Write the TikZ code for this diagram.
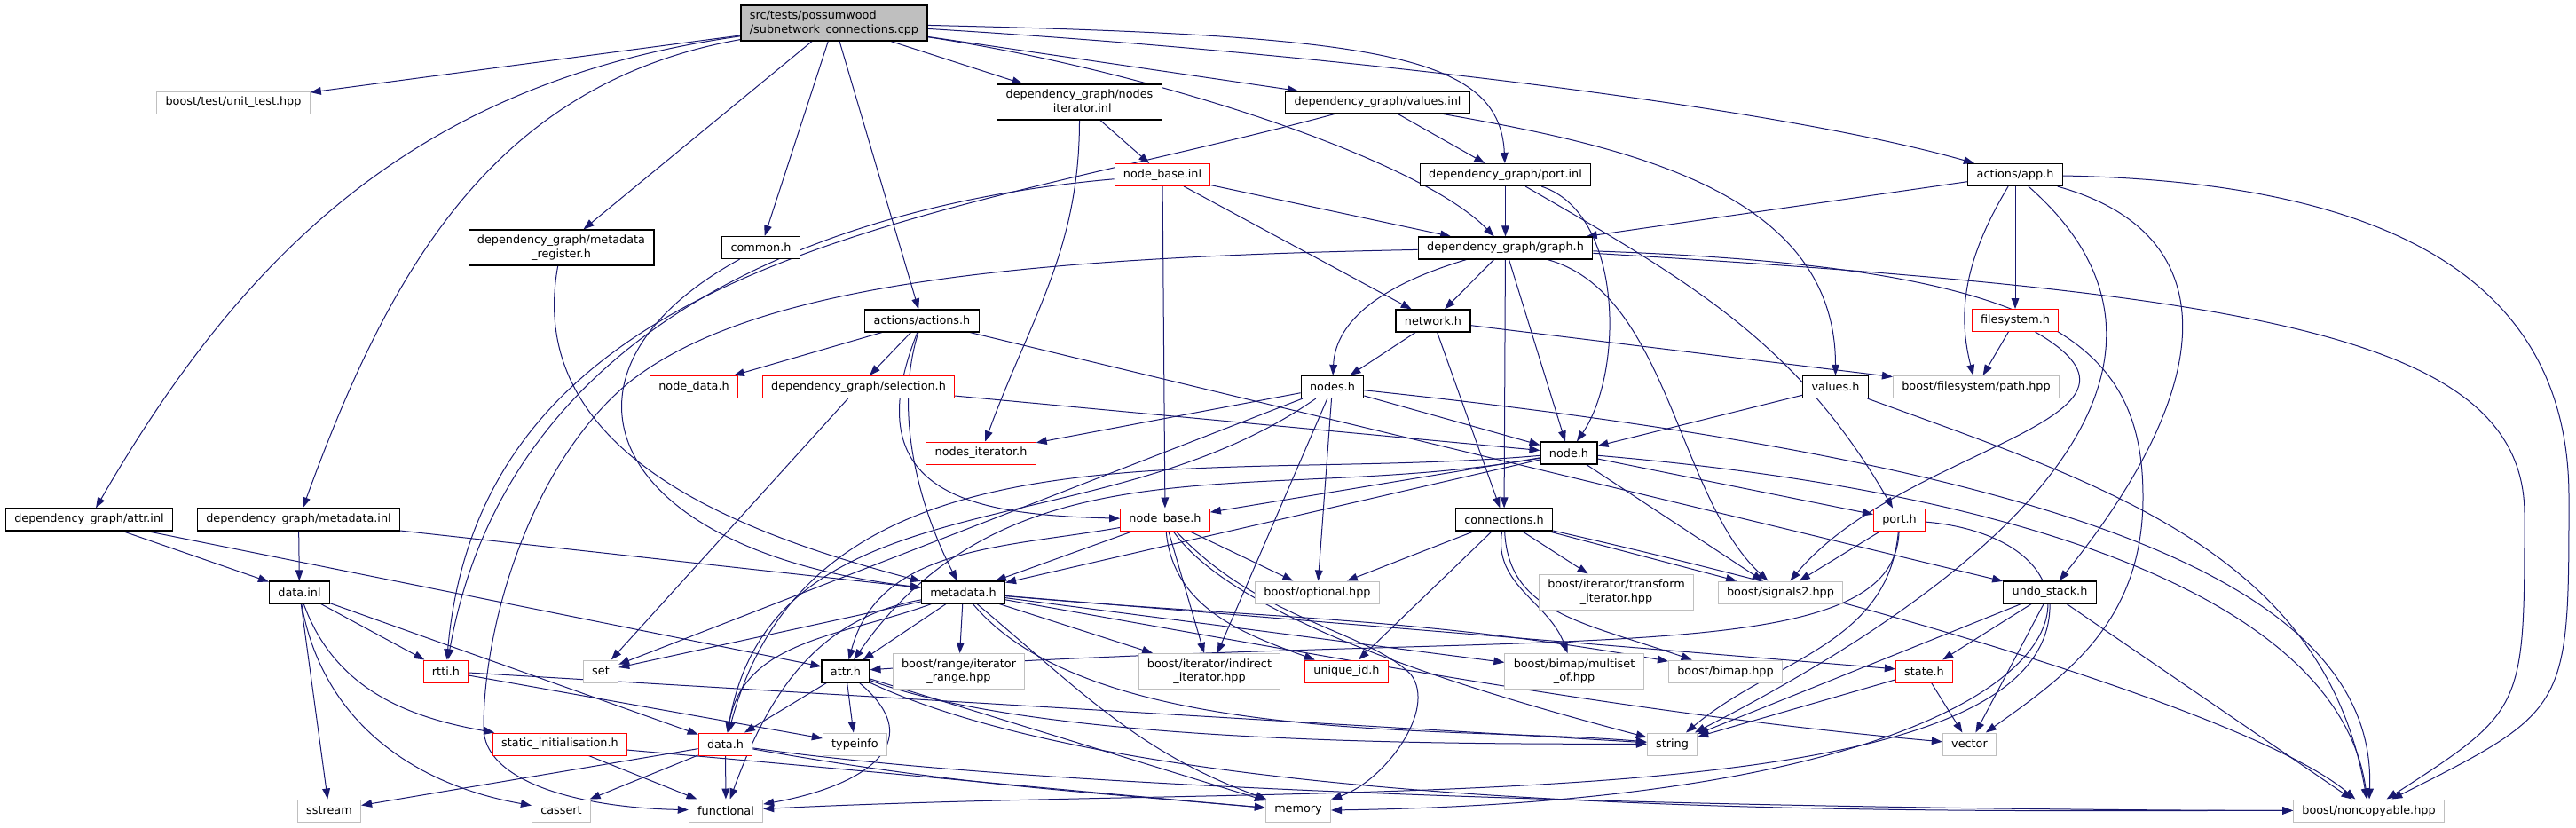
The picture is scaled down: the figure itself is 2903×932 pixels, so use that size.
\documentclass[tikz,border=0pt]{standalone}
\usepackage{fontspec}
\setmainfont{DejaVu Sans}
\usetikzlibrary{arrows.meta}
\definecolor{depblue}{RGB}{25, 25, 112}
\definecolor{depgray}{RGB}{191, 191, 191}
\definecolor{depred}{RGB}{255, 0, 0}
\newcommand{\depfont}{\fontsize{9.6}{11.5}\selectfont}
\pgfdeclarelayer{paper}
\pgfdeclarelayer{edges}
\pgfsetlayers{paper,edges,main}

\begin{document}
\begin{tikzpicture}[
    x=0.75pt, y=-0.75pt,
    >={Triangle[length=9pt, width=6.5pt]},
    file/.style={draw=black, fill=white, line width=0.9pt, font=\depfont,
        inner xsep=7.4pt, inner ysep=2pt, minimum height=18.75pt, align=center},
    file red/.style={file, draw=depred, line width=0.75pt},
    file sys/.style={file, draw=depgray, line width=0.75pt},
    file root/.style={file, fill=depgray, align=left, minimum height=30pt},
    two lines/.style={minimum height=30pt},
    dep/.style={->, draw=depblue, line width=0.75pt}
]

% page
\begin{pgfonlayer}{paper}
\fill[white] (0,0) rectangle (2903,932);
\end{pgfonlayer}
\useasboundingbox (0,0) rectangle (2903,932);

% =============================================
% Files, top to bottom
% =============================================

% the test file itself
\node[file root] (root) at (940,26)
    {src/tests/possumwood\\/subnetwork\_connections.cpp};

% first row
\node[file sys] (unittest) at (263,115.5) {boost/test/unit\_test.hpp};
\node[file, two lines] (nditinl) at (1216.5,115)
    {dependency\_graph/nodes\\\_iterator.inl};
\node[file] (valinl) at (1552.5,115.5) {dependency\_graph/values.inl};

% second row
\node[file red] (nbinl) at (1310,197) {node\_base.inl};
\node[file] (portinl) at (1696.5,197) {dependency\_graph/port.inl};
\node[file] (app) at (2271,197) {actions/app.h};

% third row
\node[file, two lines] (mdreg) at (632.5,279)
    {dependency\_graph/metadata\\\_register.h};
\node[file] (common) at (857.5,279) {common.h};
\node[file] (graph) at (1696.5,279.5) {dependency\_graph/graph.h};

% fourth row
\node[file] (actions) at (1039,361.5) {actions/actions.h};
\node[file] (network) at (1615,361.5) {network.h};
\node[file red] (fsys) at (2271,361) {filesystem.h};

% fifth row
\node[file red] (nodedata) at (782,436) {node\_data.h};
\node[file red] (selection) at (967.5,436) {dependency\_graph/selection.h};
\node[file] (nodes) at (1501.5,436) {nodes.h};
\node[file] (valh) at (2068.5,436) {values.h};
\node[file sys] (fspath) at (2227,436) {boost/filesystem/path.hpp};

% sixth row
\node[file red] (nditer) at (1105.5,510.5) {nodes\_iterator.h};
\node[file] (nodeh) at (1768,510.5) {node.h};

% seventh row
\node[file] (attrinl) at (100.5,585.5) {dependency\_graph/attr.inl};
\node[file] (mdinl) at (336.5,585.5) {dependency\_graph/metadata.inl};
\node[file red] (nodebase) at (1313,585.5) {node\_base.h};
\node[file] (conns) at (1695,585.5) {connections.h};
\node[file red] (port) at (2140.5,585.5) {port.h};

% eighth row
\node[file] (datainl) at (337.5,667.5) {data.inl};
\node[file] (metadata) at (1085.5,667.5) {metadata.h};
\node[file sys] (optional) at (1484.5,667.5) {boost/optional.hpp};
\node[file sys, two lines] (transform) at (1821.5,667)
    {boost/iterator/transform\\\_iterator.hpp};
\node[file sys] (signals) at (2006.5,667.5) {boost/signals2.hpp};
\node[file] (undo) at (2310,667.5) {undo\_stack.h};

% ninth row
\node[file red] (rtti) at (502.5,756.5) {rtti.h};
\node[file sys] (stdset) at (677,756.5) {set};
\node[file] (attrh) at (953,756.5) {attr.h};
\node[file sys, two lines] (range) at (1080.5,756.5)
    {boost/range/iterator\\\_range.hpp};
\node[file sys, two lines] (indirect) at (1363,756.5)
    {boost/iterator/indirect\\\_iterator.hpp};
\node[file red] (uniqueid) at (1517.5,756.5) {unique\_id.h};
\node[file sys, two lines] (multiset) at (1774,756.5)
    {boost/bimap/multiset\\\_of.hpp};
\node[file sys] (bimap) at (1944.5,756.5) {boost/bimap.hpp};
\node[file red] (state) at (2168.5,756.5) {state.h};

% tenth row
\node[file red] (staticinit) at (631,838.5) {static\_initialisation.h};
\node[file red] (datah) at (817.5,838.5) {data.h};
\node[file sys] (stdtypeinfo) at (963.5,838.5) {typeinfo};
\node[file sys] (stdstring) at (1884.5,838.5) {string};
\node[file sys] (stdvector) at (2219.5,838.5) {vector};

% bottom row
\node[file sys] (stdsstream) at (371,913.5) {sstream};
\node[file sys] (stdcassert) at (632.5,913.5) {cassert};
\node[file sys] (stdfunctional) at (818,913.5) {functional};
\node[file sys] (stdmemory) at (1463,913.5) {memory};
\node[file sys] (noncopy) at (2669.5,913.5) {boost/noncopyable.hpp};

% =============================================
% Include edges (kept under the boxes)
% =============================================
\begin{pgfonlayer}{edges}

% test file
\path (root) edge[dep] (unittest)
             edge[dep, out=188, in=60] (attrinl)
             edge[dep, out=190, in=70] (mdinl)
             edge[dep] (mdreg)
             edge[dep] (common)
             edge[dep] (actions)
             edge[dep] (nditinl)
             edge[dep] (valinl);
\draw[dep] (root) .. controls (1550,40) and (1690,60) .. (portinl);
\draw[dep] (root) .. controls (1300,80) and (1600,180) .. (graph);
\draw[dep] (root) .. controls (1500,60) and (2000,120) .. (app);

% metadata_register.h and common.h
\draw[dep] (mdreg) .. controls (590,510) and (830,600) .. (metadata);
\draw[dep] (common) .. controls (600,420) and (680,620) .. (metadata);

% actions.h
\path (actions) edge[dep] (nodedata) edge[dep] (selection) edge[dep] (undo);
\draw[dep] (actions) .. controls (1005,470) and (1040,580) .. (metadata);
\draw[dep] (actions) .. controls (960,560) and (1100,580) .. (nodebase);

% selection.h
\path (selection) edge[dep] (nodeh) edge[dep] (stdset);

% nodes_iterator.inl
\path (nditinl) edge[dep] (nbinl) edge[dep, out=-90, in=70] (nditer);

% values.inl
\path (valinl) edge[dep] (portinl)
               edge[dep, out=-10, in=90] (valh)
               edge[dep, out=195, in=85] (rtti);

% node_base.inl
\path (nbinl) edge[dep] (graph) edge[dep] (network) edge[dep] (nodebase)
              edge[dep, out=185, in=80] (rtti);

% port.inl
\path (portinl) edge[dep] (graph) edge[dep, out=-30, in=120] (port);
\draw[dep] (portinl) .. controls (1830,240) and (1830,420) .. (nodeh);

% graph.h
\path (graph) edge[dep] (network) edge[dep] (conns) edge[dep] (nodeh);
\draw[dep] (graph) .. controls (1560,320) and (1505,360) .. (nodes);
\draw[dep] (graph) .. controls (1880,330) and (1890,560) .. (signals);
\draw[dep] (graph) .. controls (2300,300) and (2415,380) .. (2415,560)
    .. controls (2415,700) and (2330,760) .. (stdvector);
\draw[dep] (graph) .. controls (2550,330) and (2845,380) .. (2845,580)
    .. controls (2845,800) .. (noncopy);
\draw[dep] (graph) .. controls (1150,290) and (850,320) .. (710,430)
    .. controls (600,520) and (545,700) .. (545,820)
    .. controls (545,880) and (650,910) .. (stdfunctional);

% app.h
\path (app) edge[dep] (graph) edge[dep] (fsys);
\draw[dep] (app) .. controls (2215,290) and (2205,350) .. (fspath);
\draw[dep] (app) .. controls (2480,380) and (2350,600) .. (stdstring);
\draw[dep] (app) .. controls (2500,260) and (2510,420) .. (undo);
\draw[dep] (app) .. controls (2700,205) and (2895,320) .. (2895,560)
    .. controls (2895,800) .. (noncopy);

% network.h and filesystem.h
\path (network) edge[dep] (nodes) edge[dep] (conns) edge[dep] (fspath);
\path (fsys) edge[dep] (fspath)
             edge[dep, out=-30, in=50, looseness=1.3] (signals);

% values.h
\path (valh) edge[dep] (nodeh) edge[dep, out=-20, in=100] (noncopy);

% nodes.h
\path (nodes) edge[dep] (nditer) edge[dep] (nodeh) edge[dep] (optional)
              edge[dep] (indirect) edge[dep] (stdset)
              edge[dep, out=215, in=80] (datah);
\draw[dep] (nodes) .. controls (2300,520) and (2680,650) .. (noncopy);

% node.h
\path (nodeh) edge[dep] (nodebase) edge[dep] (metadata)
              edge[dep, out=190, in=55] (attrh)
              edge[dep, out=185, in=75] (datah)
              edge[dep] (port) edge[dep] (signals);
\draw[dep] (nodeh) .. controls (2350,560) and (2640,700) .. (noncopy);

% node_base.h
\path (nodebase) edge[dep] (metadata) edge[dep] (optional) edge[dep] (indirect)
                 edge[dep, out=190, in=75] (attrh)
                 edge[dep, out=-85, in=160] (uniqueid)
                 edge[dep, out=-55, in=165, looseness=0.6] (stdstring);
\draw[dep] (nodebase) .. controls (1420,700) and (1540,710) .. (1590,760)
    .. controls (1620,800) and (1560,880) .. (stdmemory);

% connections.h
\path (conns) edge[dep] (optional) edge[dep] (uniqueid) edge[dep] (transform)
              edge[dep] (signals)
              edge[dep, out=-100, in=110] (multiset);
\draw[dep] (conns) .. controls (1700,690) and (1780,700) .. (bimap);
\draw[dep] (conns) .. controls (2200,700) and (2560,820) .. (noncopy);

% metadata.h
\path (metadata) edge[dep] (attrh) edge[dep] (range) edge[dep] (indirect)
                 edge[dep] (stdset) edge[dep] (multiset) edge[dep] (state)
                 edge[dep, out=200, in=80] (datah)
                 edge[dep, out=190, in=70] (stdfunctional)
                 edge[dep, out=-5, in=170] (bimap)
                 edge[dep, out=-50, in=175, looseness=0.7] (stdstring)
                 edge[dep, out=-40, in=160] (stdmemory);
\draw[dep] (metadata) .. controls (1488,738) and (1830,804) .. (stdvector);

% attr.h
\path (attrh) edge[dep] (datah) edge[dep] (stdtypeinfo) edge[dep] (stdmemory)
              edge[dep, out=-40, in=10, looseness=1.6] (stdfunctional);
\draw[dep] (attrh) .. controls (1180,840) and (1640,838) .. (stdstring);
\draw[dep] (attrh) .. controls (1324,929) and (2205,913) .. (noncopy);

% attr.inl, metadata.inl, data.inl
\path (attrinl) edge[dep] (datainl) edge[dep] (attrh);
\path (mdinl) edge[dep] (datainl) edge[dep] (metadata);
\path (datainl) edge[dep] (rtti) edge[dep] (stdsstream) edge[dep] (datah)
                edge[dep, out=-80, in=170] (stdcassert)
                edge[dep, out=-70, in=170] (staticinit);

% rtti.h and static_initialisation.h
\path (rtti) edge[dep] (stdtypeinfo) edge[dep] (stdstring);
\path (staticinit) edge[dep] (stdfunctional);
\draw[dep] (staticinit) .. controls (1005,871) and (1130,884) .. (stdmemory);

% data.h
\path (datah) edge[dep] (stdsstream) edge[dep] (stdcassert) edge[dep] (stdfunctional)
              edge[dep, out=-10, in=175] (stdmemory);
\draw[dep] (datah) .. controls (1251,900) and (2177,913) .. (noncopy);

% port.h
\path (port) edge[dep] (signals) edge[dep, out=-95, in=40] (stdstring);
\draw[dep] (port) .. controls (2135,760) and (1750,705) .. (attrh);
\draw[dep] (port) .. controls (2420,610) and (2400,900) .. (stdmemory);

% state.h and undo_stack.h
\path (state) edge[dep] (stdstring) edge[dep] (stdvector);
\path (undo) edge[dep] (state) edge[dep] (stdstring) edge[dep] (stdvector)
             edge[dep] (noncopy);
\draw[dep] (undo) .. controls (2312,930) and (1500,880) .. (stdfunctional);

\end{pgfonlayer}

\end{tikzpicture}
\end{document}
